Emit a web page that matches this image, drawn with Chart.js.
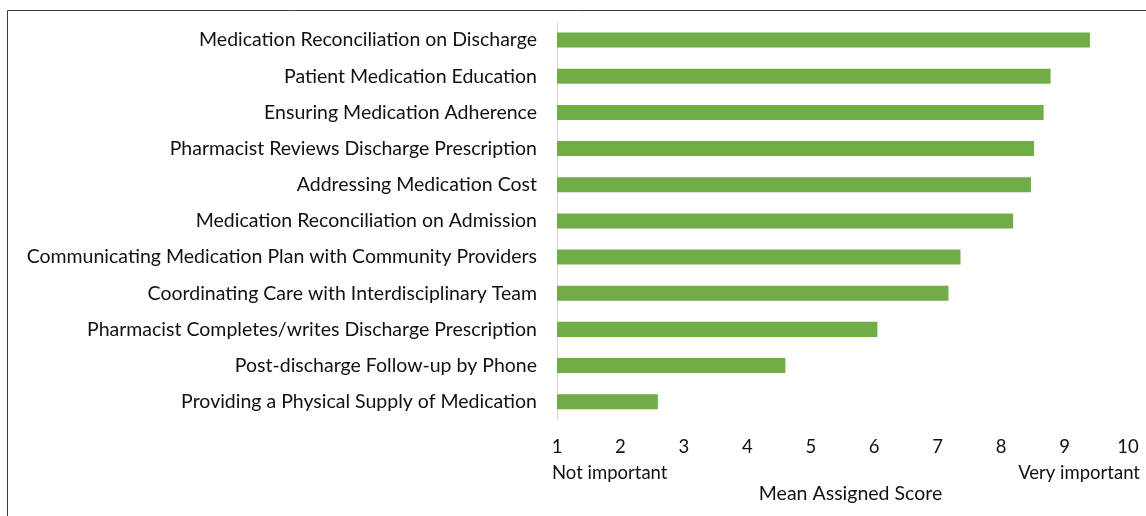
<!DOCTYPE html>
<html>
<head>
<meta charset="utf-8">
<script src="https://cdn.jsdelivr.net/npm/chart.js@4/dist/chart.umd.min.js"></script>
<style>
html,body{margin:0;padding:0;background:#fff;}
#wrap{position:relative;width:1146px;height:516px;}
</style>
</head>
<body>
<div id="wrap"><canvas id="c" width="1146" height="516"></canvas></div>
<script>
const categories = [
  "Medication Reconciliation on Discharge",
  "Patient Medication Education",
  "Ensuring Medication Adherence",
  "Pharmacist Reviews Discharge Prescription",
  "Addressing Medication Cost",
  "Medication Reconciliation on Admission",
  "Communicating Medication Plan with Community Providers",
  "Coordinating Care with Interdisciplinary Team",
  "Pharmacist Completes/writes Discharge Prescription",
  "Post-discharge Follow-up by Phone",
  "Providing a Physical Supply of Medication"
];
const meanScores = [9.40, 8.78, 8.67, 8.52, 8.47, 8.19, 7.36, 7.17, 6.05, 4.60, 2.59];
const axisMin = 1;
const axisMax = 10;
const lowLabel = "Not important";
const highLabel = "Very important";
const axisTitle = "Mean Assigned Score";

const FONT = "Lato, 'Open Sans', sans-serif";

const extras = {
  id: 'extras',
  afterDraw(chart) {
    const ctx = chart.ctx;
    const x = chart.scales.x;
    ctx.save();
    // frame border
    ctx.strokeStyle = '#3a3a3a';
    ctx.lineWidth = 1;
    ctx.beginPath();
    ctx.moveTo(7.5, 600);
    ctx.lineTo(7.5, 10.5);
    ctx.lineTo(1200, 10.5);
    ctx.stroke();
    // end labels
    ctx.fillStyle = '#111';
    ctx.font = '18.5px ' + FONT;
    ctx.textBaseline = 'middle';
    ctx.textAlign = 'left';
    ctx.fillText(lowLabel, x.left - 5, 473);
    ctx.textAlign = 'right';
    ctx.fillText(highLabel, 1140, 473);
    // axis title
    ctx.font = '19.5px ' + FONT;
    ctx.textAlign = 'center';
    ctx.fillText(axisTitle, (x.left + x.right) / 2 + 8, 494);
    ctx.restore();
  }
};

new Chart(document.getElementById('c'), {
  type: 'bar',
  data: {
    labels: categories,
    datasets: [{
      data: meanScores.map(v => [axisMin, v]),
      backgroundColor: '#70ad47',
      borderWidth: 0,
      barPercentage: 0.8,
      categoryPercentage: 0.52
    }]
  },
  options: {
    indexAxis: 'y',
    responsive: false,
    animation: false,
    layout: { padding: { left: 10, right: 18, top: 22, bottom: 42 } },
    plugins: { legend: { display: false }, tooltip: { enabled: false } },
    scales: {
      y: {
        grid: { display: false, drawTicks: false },
        border: { display: true, color: '#d9d9d9', width: 1 },
        ticks: { color: '#111', font: { family: FONT, size: 19.5 }, padding: 20 },
        afterFit(scale) { scale.width = 547; scale.paddingTop = 0; scale.paddingBottom = 0; }
      },
      x: {
        min: axisMin,
        max: axisMax,
        grid: { display: false, drawTicks: false },
        border: { display: false },
        ticks: { stepSize: 1, color: '#111', font: { family: FONT, size: 18.5 }, padding: 16, maxRotation: 0 },
        title: { display: false },
        afterFit(scale) { scale.paddingLeft = 0; scale.paddingRight = 0; }
      }
    }
  },
  plugins: [extras]
});
</script>
</body>
</html>
